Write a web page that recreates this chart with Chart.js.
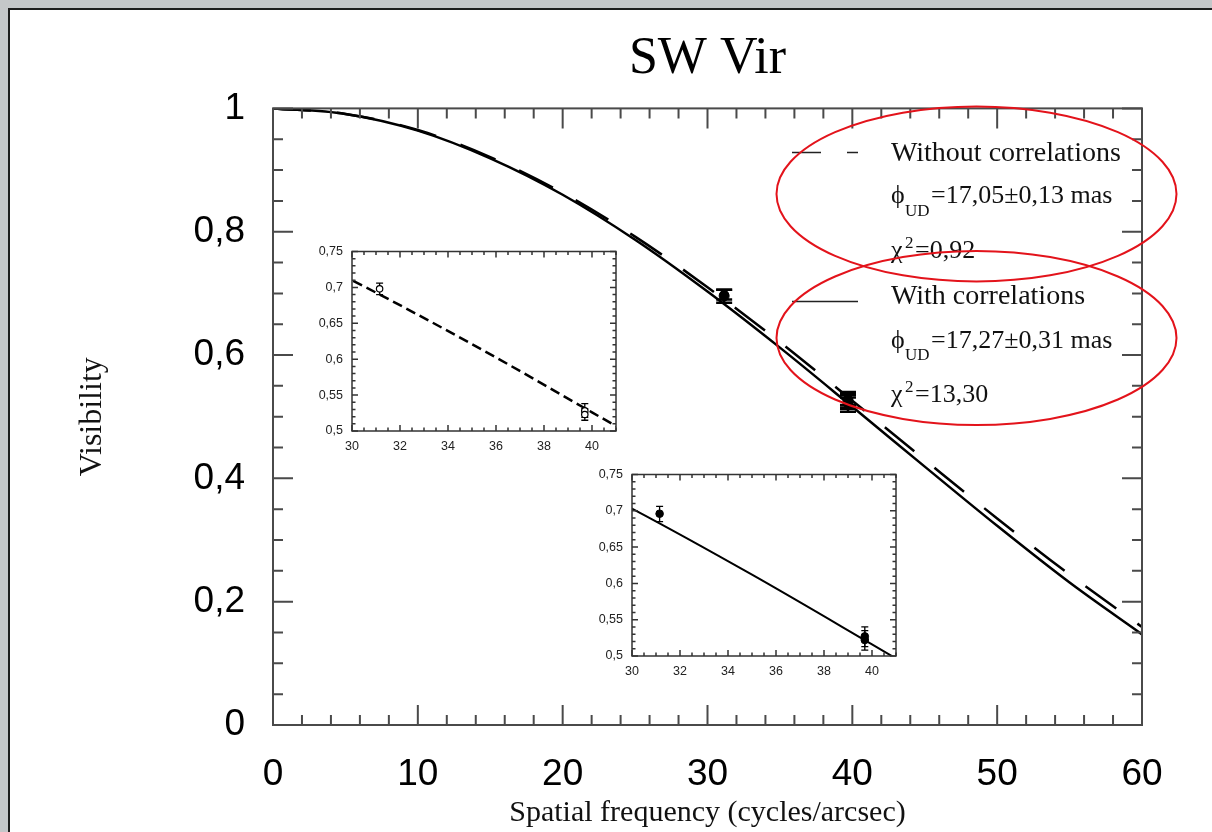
<!DOCTYPE html>
<html>
<head>
<meta charset="utf-8">
<title>SW Vir</title>
<script src="https://cdn.jsdelivr.net/npm/chart.js@4.4.1/dist/chart.umd.min.js"></script>
<style>
  html, body { margin: 0; padding: 0; width: 1212px; height: 832px; overflow: hidden; background: #c5c7c9; }
  #panel { position: absolute; left: 8px; top: 8px; width: 1210px; height: 830px; background: #fff;
           border-left: 2px solid #1e1e1e; border-top: 2px solid #1e1e1e; }
  canvas { position: absolute; }
  #main { left: 0; top: 0; }
  #inset1 { left: 300px; top: 235px; }
  #inset2 { left: 580px; top: 458px; }
</style>
</head>
<body>
<div id="panel"></div>
<canvas id="main" width="1212" height="832"></canvas>
<canvas id="inset1" width="330" height="230"></canvas>
<canvas id="inset2" width="330" height="230"></canvas>
<script>
// uniform disk fits, every 5 cycles/arcsec
const freq = [0, 5, 10, 15, 20, 25, 30, 35, 40, 45, 50, 55, 60];
const visWithout = [1, 0.991, 0.965, 0.921, 0.863, 0.792, 0.710, 0.621, 0.526, 0.430, 0.335, 0.244, 0.159];
const visWith = [1, 0.991, 0.964, 0.919, 0.860, 0.787, 0.703, 0.612, 0.516, 0.419, 0.323, 0.231, 0.147];

// measured points: open = without correlations, filled = with correlations
const obsFreq = [31.15, 39.7, 39.7];
const openVis = [0.698, 0.528, 0.523];
const openLow = [0.690, 0.519, 0.515];
const openHigh = [0.706, 0.538, 0.531];
const fillVis = [0.696, 0.527, 0.522];
const fillLow = [0.685, 0.513, 0.508];
const fillHigh = [0.706, 0.540, 0.535];

// tick labels
const mainXTicks = [0, 10, 20, 30, 40, 50, 60];
const mainXLabels = ['0', '10', '20', '30', '40', '50', '60'];
const mainYTicks = [0, 0.2, 0.4, 0.6, 0.8, 1];
const mainYLabels = ['0', '0,2', '0,4', '0,6', '0,8', '1'];
const insetXTicks = [30, 32, 34, 36, 38, 40];
const insetXLabels = ['30', '32', '34', '36', '38', '40'];
const insetYTicks = [0.5, 0.55, 0.6, 0.65, 0.7, 0.75];
const insetYLabels = ['0,5', '0,55', '0,6', '0,65', '0,7', '0,75'];

const SANS = '"Liberation Sans", Arial, sans-serif';
const SERIF = '"Liberation Serif", "Times New Roman", serif';

function labelFor(values, labels) {
    return function (v) {
        const i = values.findIndex(t => Math.abs(t - v) < 1e-6);
        return i < 0 ? '' : labels[i];
    };
}

function pts(xs, ys) {
    return xs.map((x, i) => ({ x: x, y: ys[i] }));
}

// box frame with inward ticks on all four sides
const frameTicks = {
    id: 'frameTicks',
    afterDatasetsDraw(chart, args, opts) {
        const { ctx, chartArea: a, scales: { x, y } } = chart;
        ctx.save();
        ctx.strokeStyle = opts.color;
        ctx.lineWidth = opts.width;
        ctx.beginPath();
        x.ticks.forEach(t => {
            const px = x.getPixelForValue(t.value);
            const len = t.label ? opts.major : opts.minor;
            ctx.moveTo(px, a.bottom); ctx.lineTo(px, a.bottom - len);
            ctx.moveTo(px, a.top); ctx.lineTo(px, a.top + len);
        });
        y.ticks.forEach(t => {
            const py = y.getPixelForValue(t.value);
            const len = t.label ? opts.major : opts.minor;
            ctx.moveTo(a.left, py); ctx.lineTo(a.left + len, py);
            ctx.moveTo(a.right, py); ctx.lineTo(a.right - len, py);
        });
        ctx.stroke();
        ctx.strokeRect(a.left, a.top, a.right - a.left, a.bottom - a.top);
        ctx.restore();
    }
};

const errorBars = {
    id: 'errorBars',
    beforeDatasetsDraw(chart, args, opts) {
        const { ctx, scales: { x, y } } = chart;
        ctx.save();
        ctx.strokeStyle = '#000';
        ctx.lineWidth = opts.width;
        chart.data.datasets.forEach(ds => {
            if (!ds.errLow) return;
            ds.data.forEach((p, i) => {
                const px = x.getPixelForValue(p.x);
                const top = y.getPixelForValue(ds.errHigh[i]);
                const bot = y.getPixelForValue(ds.errLow[i]);
                ctx.beginPath();
                ctx.moveTo(px, top); ctx.lineTo(px, bot);
                ctx.moveTo(px - opts.cap, top); ctx.lineTo(px + opts.cap, top);
                ctx.moveTo(px - opts.cap, bot); ctx.lineTo(px + opts.cap, bot);
                ctx.stroke();
            });
        });
        ctx.restore();
    }
};

// legend text block and the two red ellipses
const notes = {
    id: 'notes',
    afterDraw(chart) {
        const ctx = chart.ctx;
        ctx.save();
        ctx.strokeStyle = '#222';
        ctx.lineWidth = 1.5;
        ctx.beginPath();
        ctx.moveTo(792, 152.5); ctx.lineTo(821, 152.5);
        ctx.moveTo(847, 152.5); ctx.lineTo(858, 152.5);
        ctx.moveTo(792, 301.5); ctx.lineTo(858, 301.5);
        ctx.stroke();

        ctx.fillStyle = '#111';
        ctx.textBaseline = 'alphabetic';
        ctx.textAlign = 'left';
        const word = '28px ' + SERIF, num = '26px ' + SERIF, small = '17px ' + SERIF;
        function line(parts) {
            parts.forEach(p => {
                ctx.font = p[3];
                ctx.fillText(p[0], p[1], p[2]);
            });
        }
        line([['Without correlations', 891, 161, word]]);
        line([['ϕ', 891, 203, num], ['UD', 905, 216, small], ['=17,05±0,13 mas', 931, 203, num]]);
        line([['χ', 891, 258, num], ['2', 905, 248, small], ['=0,92', 915, 258, num]]);
        line([['With correlations', 891, 304, word]]);
        line([['ϕ', 891, 348, num], ['UD', 905, 360, small], ['=17,27±0,31 mas', 931, 348, num]]);
        line([['χ', 891, 402, num], ['2', 905, 392, small], ['=13,30', 915, 402, num]]);

        ctx.strokeStyle = '#e3131b';
        ctx.lineWidth = 2;
        ctx.beginPath();
        ctx.ellipse(976.5, 194, 200, 87.5, 0, 0, Math.PI * 2);
        ctx.stroke();
        ctx.beginPath();
        ctx.ellipse(976.5, 338, 200, 87, 0, 0, Math.PI * 2);
        ctx.stroke();
        ctx.restore();
    }
};

// 1. main plot
new Chart(document.getElementById('main'), {
    type: 'scatter',
    data: {
        datasets: [
            { data: pts(obsFreq, fillVis), errLow: fillLow, errHigh: fillHigh, pointRadius: 5,
              backgroundColor: '#000', borderColor: '#000', showLine: false },
            { data: pts(obsFreq, openVis), errLow: openLow, errHigh: openHigh, pointRadius: 4,
              backgroundColor: '#fff', borderColor: '#000', borderWidth: 1.5, showLine: false },
            { data: pts(freq, visWith), showLine: true, borderColor: '#000', borderWidth: 2.5,
              pointRadius: 0, cubicInterpolationMode: 'monotone' },
            { data: pts(freq, visWithout), showLine: true, borderColor: '#000', borderWidth: 2.5,
              borderDash: [38, 26], pointRadius: 0, cubicInterpolationMode: 'monotone' }
        ]
    },
    options: {
        responsive: false,
        animation: false,
        devicePixelRatio: 1,
        layout: { padding: { left: 0, right: 70, top: 0, bottom: 0 } },
        plugins: {
            legend: { display: false },
            tooltip: { enabled: false },
            title: {
                display: true, text: 'SW Vir', color: '#000', fullSize: false,
                font: { family: SERIF, size: 52, weight: 'normal' },
                padding: { top: 28, bottom: 18 }
            },
            frameTicks: { major: 20, minor: 10, width: 2, color: '#4a4a4a' },
            errorBars: { width: 2.5, cap: 8 }
        },
        scales: {
            x: {
                type: 'linear', min: 0, max: 60,
                afterFit: s => { s.height = 107; },
                grid: { display: false, drawTicks: false },
                border: { display: false },
                ticks: {
                    stepSize: 2, autoSkip: false, maxRotation: 0, padding: 28, color: '#000',
                    font: { family: SANS, size: 37 },
                    callback: labelFor(mainXTicks, mainXLabels)
                },
                title: {
                    display: true, text: 'Spatial frequency (cycles/arcsec)', color: '#111',
                    font: { family: SERIF, size: 30 }, padding: { top: 0, bottom: 1 }
                }
            },
            y: {
                type: 'linear', min: 0, max: 1,
                afterFit: s => { s.width = 273; },
                grid: { display: false, drawTicks: false },
                border: { display: false },
                ticks: {
                    stepSize: 0.05, autoSkip: false, padding: 28, color: '#000',
                    font: { family: SANS, size: 37 },
                    callback: labelFor(mainYTicks, mainYLabels)
                },
                title: {
                    display: true, text: 'Visibility', color: '#111',
                    font: { family: SERIF, size: 32 }, padding: { top: 73, bottom: 0 }
                }
            }
        }
    },
    plugins: [frameTicks, errorBars, notes]
});

// 2. zoom insets
function insetOptions(xAxisHeight) {
    return {
        responsive: false,
        animation: false,
        devicePixelRatio: 1,
        layout: { padding: { left: 0, right: 14, top: 10, bottom: 0 } },
        plugins: {
            legend: { display: false },
            tooltip: { enabled: false },
            frameTicks: { major: 6, minor: 3.5, width: 1.5, color: '#333' },
            errorBars: { width: 1.3, cap: 3.5 }
        },
        scales: {
            x: {
                type: 'linear', min: 30, max: 41,
                afterFit: s => { s.height = xAxisHeight; },
                grid: { display: false, drawTicks: false },
                border: { display: false },
                ticks: {
                    stepSize: 0.5, autoSkip: false, maxRotation: 0, padding: 8.5, color: '#222',
                    font: { family: SANS, size: 12.5 },
                    callback: labelFor(insetXTicks, insetXLabels)
                }
            },
            y: {
                type: 'linear', min: 0.5, max: 0.75,
                afterFit: s => { s.width = 52; },
                grid: { display: false, drawTicks: false },
                border: { display: false },
                ticks: {
                    stepSize: 0.01, autoSkip: false, padding: 9, color: '#222',
                    font: { family: SANS, size: 12.5 },
                    callback: labelFor(insetYTicks, insetYLabels)
                }
            }
        }
    };
}

new Chart(document.getElementById('inset1'), {
    type: 'scatter',
    data: {
        datasets: [
            { data: pts(obsFreq, openVis), errLow: openLow, errHigh: openHigh, pointRadius: 3.2,
              backgroundColor: '#fff', borderColor: '#000', borderWidth: 1.2, showLine: false },
            { data: pts(freq, visWithout), showLine: true, borderColor: '#000', borderWidth: 2.5,
              borderDash: [10, 5], pointRadius: 0, cubicInterpolationMode: 'monotone' }
        ]
    },
    options: insetOptions(34),
    plugins: [frameTicks, errorBars]
});

new Chart(document.getElementById('inset2'), {
    type: 'scatter',
    data: {
        datasets: [
            { data: pts(obsFreq, fillVis), errLow: fillLow, errHigh: fillHigh, pointRadius: 3.8,
              backgroundColor: '#000', borderColor: '#000', showLine: false },
            { data: pts(freq, visWith), showLine: true, borderColor: '#000', borderWidth: 2,
              pointRadius: 0, cubicInterpolationMode: 'monotone' }
        ]
    },
    options: insetOptions(32),
    plugins: [frameTicks, errorBars]
});
</script>
</body>
</html>
